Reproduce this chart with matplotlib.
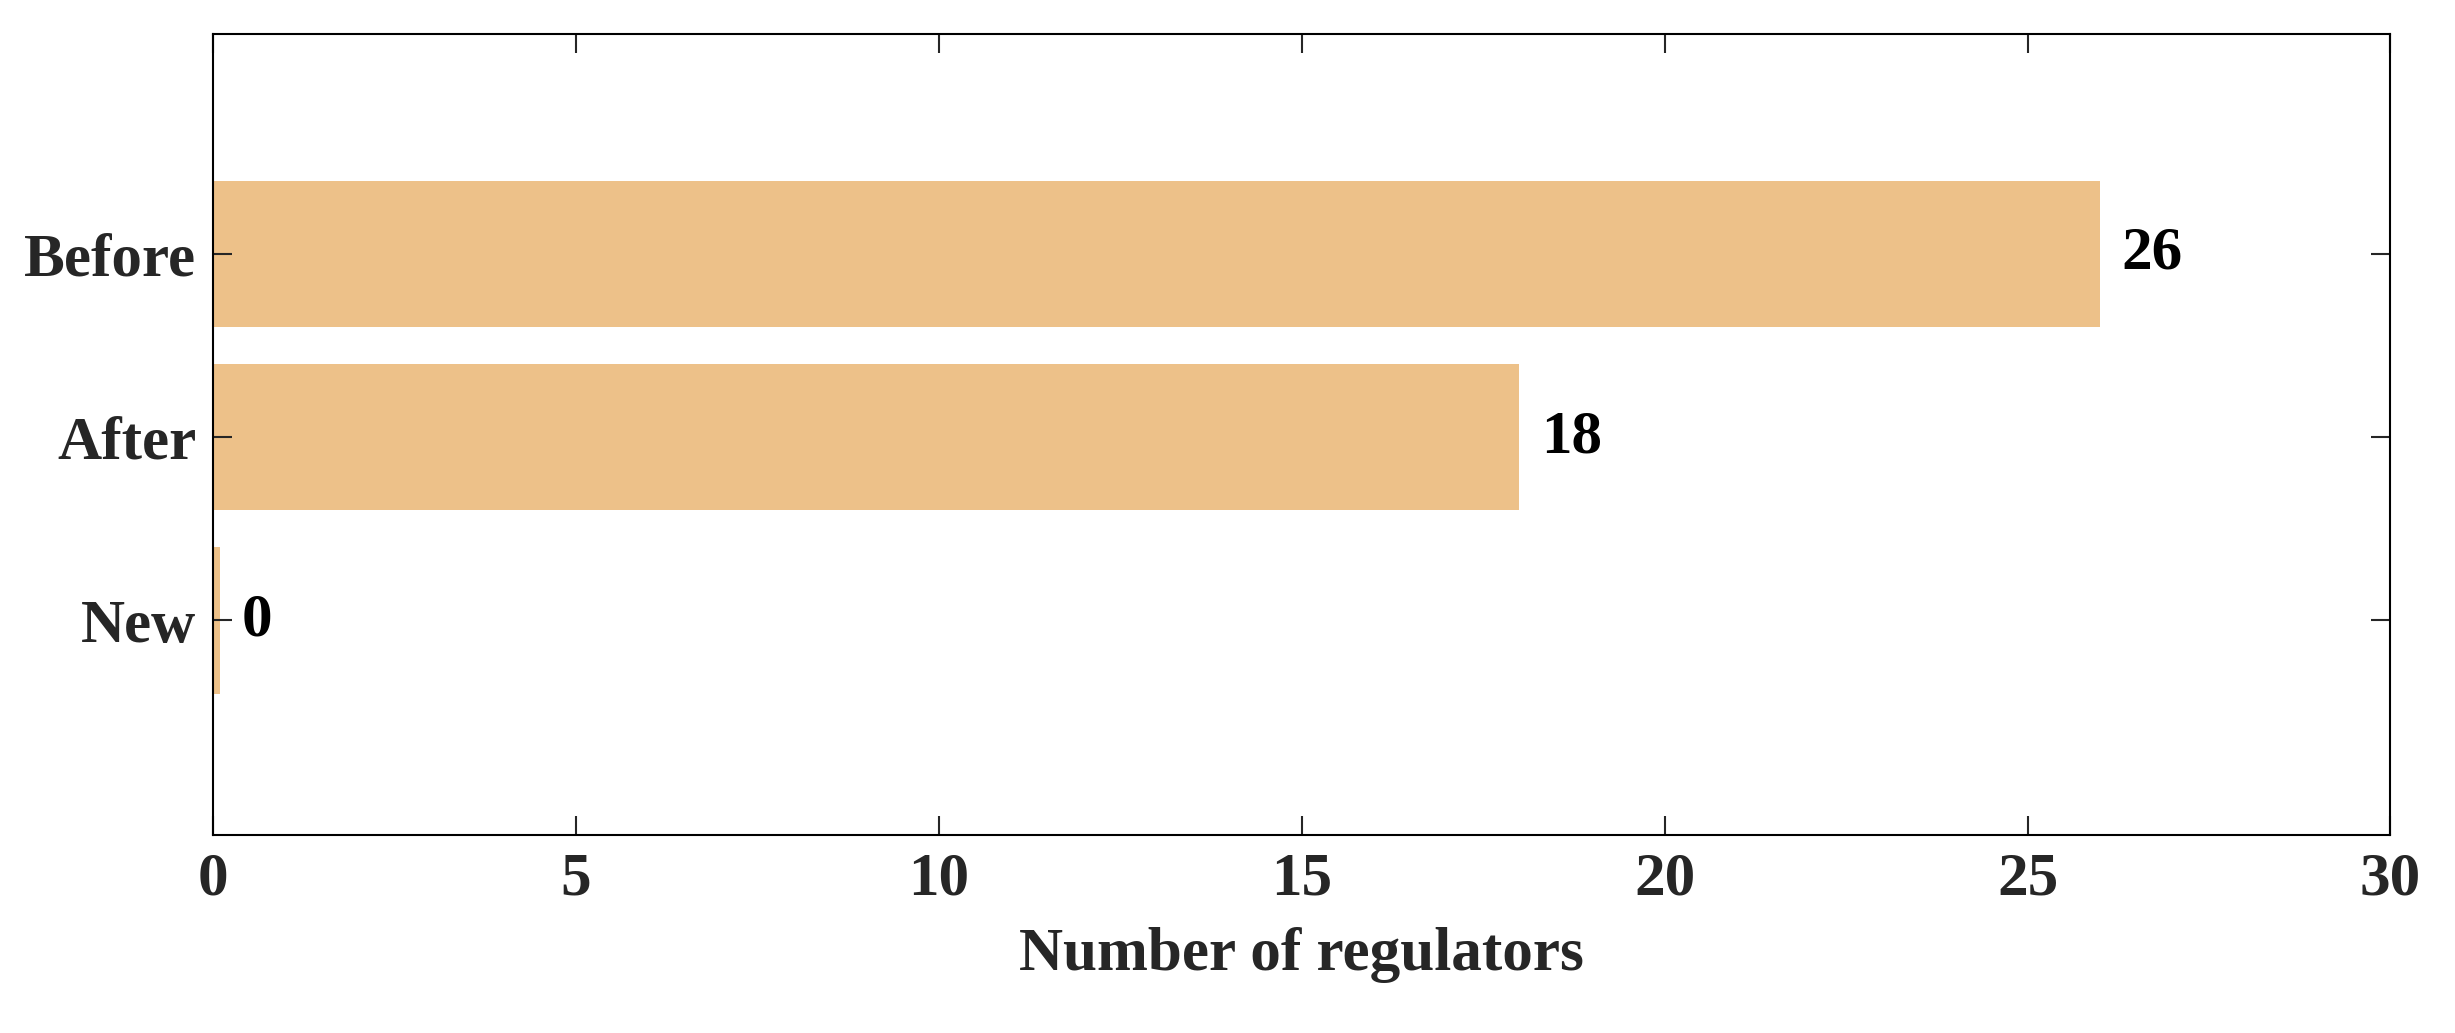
import matplotlib.pyplot as plt

categories = ['New', 'After', 'Before']
counts = [0, 18, 26]
drawn = [0.1, 18, 26]  # zero bar shown as a thin sliver

plt.rcParams['font.family'] = ['Liberation Serif', 'DejaVu Serif']
plt.rcParams['font.weight'] = 'bold'
FONTSIZE = 44

fig = plt.figure(figsize=(24.55, 10.33), dpi=100)
ax = fig.add_axes([0.0867, 0.192, 0.887, 0.775])
ypos = [1, 2, 3]
ax.barh(ypos, drawn, height=0.8, color='#EDC189')
for y, v, d in zip(ypos, counts, drawn):
    ax.text(d + 0.3, y, str(v), va='center', ha='left',
            fontsize=FONTSIZE, fontweight='bold')

ax.set_xlim(0, 30)
ax.set_ylim(-0.17, 4.2)
ax.set_yticks(ypos)
ax.set_yticklabels(categories)
ax.set_xticks(range(0, 31, 5))
ax.tick_params(direction='in', top=True, right=True, length=14, width=1.5,
               labelsize=FONTSIZE, colors='#262626', pad=12)
for s in ax.spines.values():
    s.set_linewidth(1.5)
ax.set_xlabel('Number of regulators', fontsize=FONTSIZE, fontweight='bold',
              color='#262626', labelpad=14)
fig.savefig('out.png')
